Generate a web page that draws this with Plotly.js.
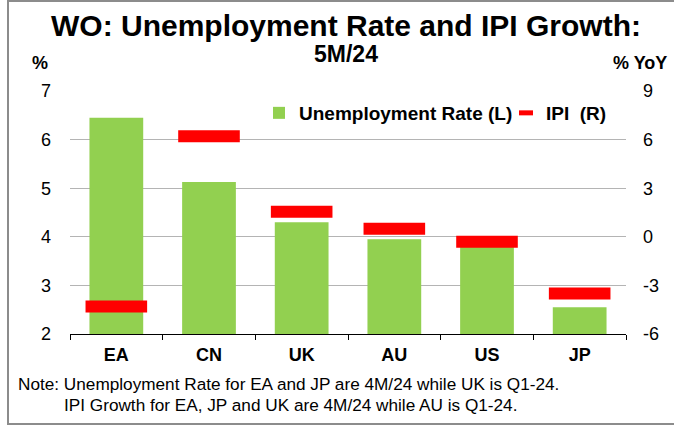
<!DOCTYPE html>
<html>
<head>
<meta charset="utf-8">
<script src="https://cdn.plot.ly/plotly-3.0.1.min.js"></script>
<style>
  html, body { margin:0; padding:0; background:#fff; }
  #wrap { position:relative; width:674px; height:426px; overflow:hidden; }
  #frame { position:absolute; left:7px; top:0px; width:700px; height:425px; border:2px solid #8c8c8c; box-sizing:border-box; pointer-events:none; z-index:5; }
  #chart { position:absolute; left:0; top:0; width:674px; height:426px; }
</style>
</head>
<body>
<div id="wrap">
  <div id="chart"></div>
  <div id="frame"></div>
</div>
<script>
// ---- data ----
const categories = ["EA", "CN", "UK", "AU", "US", "JP"];
const unemploymentRate = [6.45, 5.13, 4.3, 3.95, 4.0, 2.55];   // left axis, %
const ipiGrowth = [-4.3, 6.2, 1.55, 0.5, -0.3, -3.5];         // right axis, % YoY
const leftTicks = [2, 3, 4, 5, 6, 7];
const rightTicks = [-6, -3, 0, 3, 6, 9];
const titleLine1 = "WO: Unemployment Rate and IPI Growth:";
const titleLine2 = "5M/24";
const noteLine1 = "Note: Unemployment Rate for EA and JP are 4M/24 while UK is Q1-24.";
const noteLine2 = "IPI Growth for EA, JP and UK are 4M/24 while AU is Q1-24.";

// ---- layout geometry ----
const W = 674, H = 426;
const L = 70, R = 48, T = 91, B = 92;
const PW = W - L - R, PH = H - T - B;
const px2x = p => (p - L) / PW;
const px2y = p => (H - B - p) / PH;

const FONT = "Liberation Sans, Arial, sans-serif";
const RED = "#ff0000", GREEN = "#92d050";

const traces = [
  {
    type: "bar",
    name: "Unemployment Rate (L)",
    x: categories,
    y: unemploymentRate,
    width: 0.58,
    marker: { color: GREEN, line: { width: 0 } },
    yaxis: "y",
    legendwidth: 202,
    hoverinfo: "x+y"
  },
  {
    type: "scatter",
    mode: "markers",
    name: "IPI  (R)",
    x: categories,
    y: ipiGrowth,
    yaxis: "y2",
    showlegend: false,
    marker: { symbol: "line-ew", size: 44, color: RED, line: { color: RED, width: 12 } },
    hoverinfo: "x+y"
  },
  {
    // legend entry for the IPI series (smaller dash, as in the reference legend)
    type: "scatter",
    mode: "markers",
    name: "IPI  (R)",
    x: [null],
    y: [null],
    yaxis: "y2",
    showlegend: true,
    marker: { symbol: "line-ew", size: 10, color: RED, line: { color: RED, width: 5 } },
    hoverinfo: "skip"
  }
];

const layout = {
  width: W, height: H,
  margin: { l: L, r: R, t: T, b: B, pad: 0 },
  paper_bgcolor: "#ffffff",
  plot_bgcolor: "#ffffff",
  font: { family: FONT, color: "#000000", size: 16 },
  showlegend: true,
  title: {
    text: "<b>" + titleLine1 + "</b>",
    font: { family: FONT, size: 30, color: "#000" },
    x: px2x(346), xanchor: "center", xref: "paper",
    y: 1 - 25 / H, yanchor: "middle", yref: "container"
  },
  xaxis: {
    type: "category",
    range: [-0.5, categories.length - 0.5],
    tickson: "boundaries",
    ticks: "outside", ticklen: 5, tickwidth: 1, tickcolor: "#000",
    showline: true, linecolor: "#000", linewidth: 1,
    showgrid: false,
    tickfont: { family: FONT, size: 18, color: "#000", weight: "bold" },
    ticklabelstandoff: 4,
    fixedrange: true
  },
  yaxis: {
    range: [2, 7],
    tickvals: leftTicks,
    ticktext: leftTicks.map(String),
    showgrid: true, gridcolor: "#b4b4b4", gridwidth: 1,
    zeroline: false,
    showline: false,
    ticks: "", ticklabelstandoff: 18,
    tickfont: { family: FONT, size: 18, color: "#000" },
    fixedrange: true
  },
  yaxis2: {
    range: [-6, 9],
    tickvals: rightTicks,
    ticktext: rightTicks.map(String),
    overlaying: "y", side: "right",
    showgrid: false, zeroline: false, showline: false,
    ticks: "", ticklabelstandoff: 16,
    tickfont: { family: FONT, size: 18, color: "#000" },
    fixedrange: true
  },
  legend: {
    orientation: "h",
    x: px2x(259), xanchor: "left",
    y: px2y(113), yanchor: "middle",
    bgcolor: "rgba(0,0,0,0)",
    font: { family: FONT, size: 19, color: "#000", weight: "bold" },
    itemwidth: 30,
    traceorder: "normal"
  },
  annotations: [
    { xref: "paper", yref: "paper", x: px2x(346), y: px2y(54), text: "<b>" + titleLine2 + "</b>", showarrow: false,
      xanchor: "center", yanchor: "middle", font: { family: FONT, size: 23, color: "#000" } },
    { xref: "paper", yref: "paper", x: px2x(30), y: px2y(63), text: "<b>%</b>", showarrow: false,
      xanchor: "left", yanchor: "middle", font: { family: FONT, size: 18, color: "#000" } },
    { xref: "paper", yref: "paper", x: px2x(669), y: px2y(63), text: "<b>% YoY</b>", showarrow: false,
      xanchor: "right", yanchor: "middle", font: { family: FONT, size: 18, color: "#000" } },
    { xref: "paper", yref: "paper", x: px2x(17), y: px2y(384), text: noteLine1, showarrow: false,
      xanchor: "left", yanchor: "middle", borderpad: 0, font: { family: FONT, size: 17.2, color: "#000" } },
    { xref: "paper", yref: "paper", x: px2x(63), y: px2y(405), text: noteLine2, showarrow: false,
      xanchor: "left", yanchor: "middle", borderpad: 0, font: { family: FONT, size: 17.2, color: "#000" } }
  ]
};

Plotly.newPlot("chart", traces, layout, { displayModeBar: false, staticPlot: true });
</script>
</body>
</html>
